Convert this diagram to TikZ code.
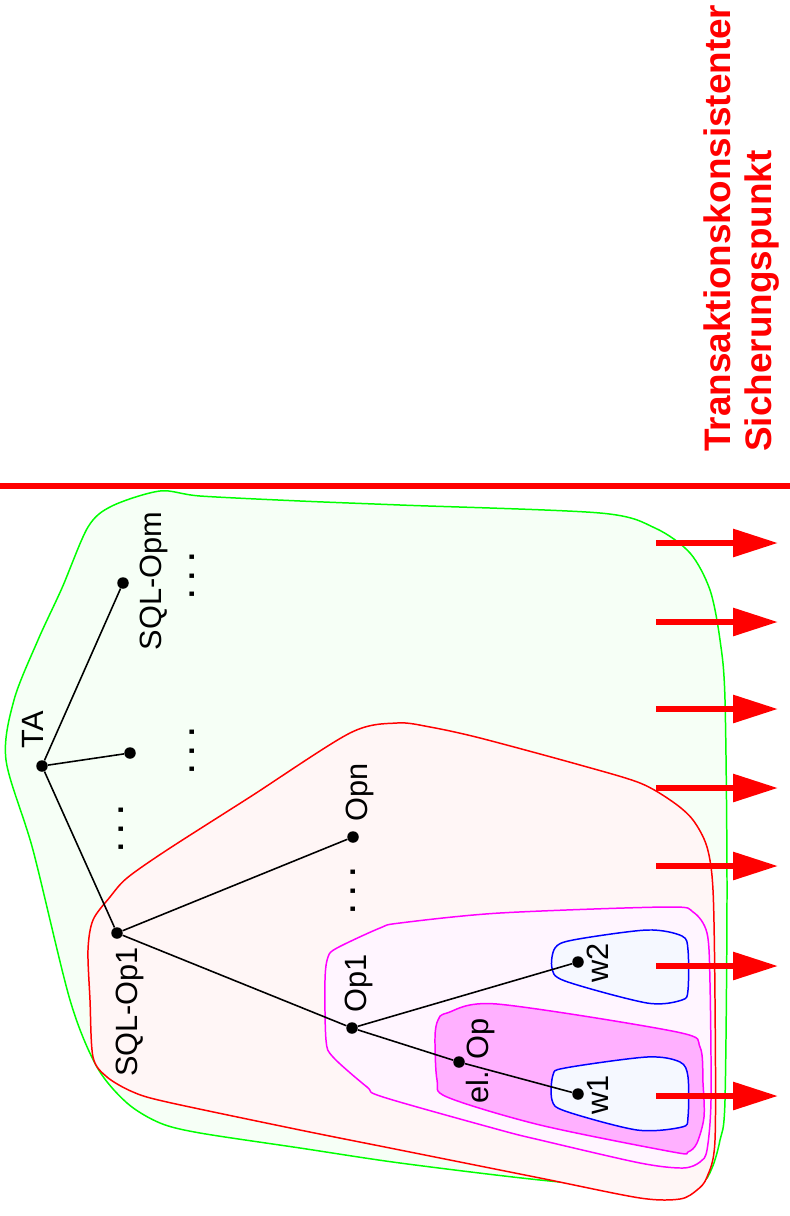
\documentclass[tikz,border=0pt]{standalone}
\usepackage{fontspec}
\setmainfont{Liberation Sans}
\usepackage{xcolor}
\usepackage{tikz}
\usetikzlibrary{arrows.meta,positioning}

\definecolor{greenline}{RGB}{0,255,0}
\definecolor{redline}{RGB}{255,0,0}
\definecolor{pinkline}{RGB}{255,0,255}
\definecolor{blueline}{RGB}{0,0,255}
\definecolor{greenfill}{RGB}{246,255,246}
\definecolor{redfill}{RGB}{255,246,246}
\definecolor{opfill}{RGB}{255,245,255}
\definecolor{elfill}{RGB}{255,176,255}
\definecolor{wfill}{RGB}{245,248,255}

\begin{document}
\begin{tikzpicture}[
  x=0.02cm, y=-0.02cm,
  font=\fontsize{17.5}{21}\selectfont,
  blob/.style={
    line width=0.85pt,
    line join=round
  },
  dot/.style={
    circle,
    fill=black,
    inner sep=0pt,
    minimum size=2.3mm
  },
  lbl/.style={
    rotate=90,
    inner sep=0pt
  },
  dotsrow/.style={
    rotate=90,
    inner sep=0pt,
    font=\fontsize{17.5}{21}\bfseries
  },
  edge/.style={
    line width=0.9pt
  },
  bigarrow/.style={
    redline,
    line width=3.4pt,
    -{Triangle[length=9mm,width=5.4mm]}
  }
]
\useasboundingbox (0,0) rectangle (790,1216);

%---------------------------------
% Regions
%---------------------------------
\filldraw[blob, draw=greenline, fill=greenfill] plot[smooth cycle, tension=0.5] coordinates {
  (6,760) (14,700) (38,640) (62,588) (88,527) (112,506) (160,491) (200,496)
  (300,501) (400,505) (600,513) (655,528) (690,553) (710,590) (720,640)
  (725,700) (727,890) (725,1100) (720,1140) (712,1168) (700,1184) (660,1190)
  (540,1180) (400,1163) (300,1148) (200,1133) (160,1123) (127,1103)
  (97,1067) (70,1000) (33,850)};

\filldraw[blob, draw=redline, fill=redfill] plot[smooth cycle, tension=0.5] coordinates {
  (88,950) (93,920) (110,897) (127,878) (167,850) (250,797) (350,733)
  (397,723) (430,727) (480,738) (580,765) (640,783) (673,802) (693,820)
  (707,847) (713,890) (715,1000) (715,1140) (707,1177) (697,1190)
  (680,1199) (640,1198) (540,1178) (400,1150) (300,1130) (167,1102)
  (133,1092) (107,1077) (93,1057) (90,1000)};

\filldraw[blob, draw=pinkline, fill=opfill] plot[smooth cycle, tension=0.5] coordinates {
  (325,980) (328,957) (337,948) (380,928) (400,923) (500,913) (667,907)
  (693,912) (707,933) (710,983) (711,1100) (707,1150) (700,1162)
  (683,1168) (640,1163) (540,1140) (500,1130) (383,1097) (367,1087)
  (333,1057) (326,1040)};

\filldraw[blob, draw=pinkline, fill=elfill] plot[smooth cycle, tension=0.5] coordinates {
  (435,1037) (438,1020) (447,1013) (497,1004) (677,1032) (700,1047)
  (703,1083) (704,1117) (697,1143) (688,1152) (673,1152) (540,1125)
  (447,1097) (437,1080)};

\filldraw[blob, draw=blueline, fill=wfill] plot[smooth cycle, tension=0.5] coordinates {
  (552,968) (555,948) (573,940) (647,930) (682,936) (688,950) (688,990)
  (682,1000) (647,1003) (565,981)};

\filldraw[blob, draw=blueline, fill=wfill] plot[smooth cycle, tension=0.5] coordinates {
  (552,1100) (553,1075) (565,1068) (647,1057) (680,1062) (688,1077)
  (688,1117) (682,1127) (637,1130) (565,1111)};

%---------------------------------
% Tree
%---------------------------------
\node[dot] (ta)     at (42,766)  {};
\node[dot] (sqlmid) at (130,753) {};
\node[dot] (sqlopm) at (123,583) {};
\node[dot] (sqlop1) at (117,933) {};
\node[dot] (opn)    at (353,837) {};
\node[dot] (op1)    at (352,1028) {};
\node[dot] (elop)   at (459,1062) {};
\node[dot] (wtwo)   at (578,962) {};
\node[dot] (wone)   at (578,1094) {};

\draw[edge] (ta) -- (sqlopm);
\draw[edge] (ta) -- (sqlmid);
\draw[edge] (ta) -- (sqlop1);
\draw[edge] (sqlop1) -- (opn);
\draw[edge] (sqlop1) -- (op1);
\draw[edge] (op1) -- (wtwo);
\draw[edge] (op1) -- (elop);
\draw[edge] (elop) -- (wone);

%---------------------------------
% Labels
%---------------------------------
\node[lbl] (talbl)     at (33,730)   {TA};
\node[lbl] (sqlopmlbl) at (154,581)  {SQL-Opm};
\node[lbl] (sqlop1lbl) at (130,1012) {SQL-Op1};
\node[lbl] (opnlbl)    at (360,792)  {Opn};
\node[lbl] (op1lbl)    at (359,983)  {Op1};
\node[lbl] (eloplbl)   at (481,1061) {el. Op};
\node[lbl] (wtwolbl)   at (598,963)  {w2};
\node[lbl] (wonelbl)   at (598,1095) {w1};

\node[dotsrow] (moreA) at (192,576) {.\hspace{2mm}.\hspace{2mm}.};
\node[dotsrow] (moreB) at (192,751) {.\hspace{2mm}.\hspace{2mm}.};
\node[dotsrow] (moreC) at (121,829) {.\hspace{2mm}.\hspace{2mm}.};
\node[dotsrow] (moreD) at (353,891) {.\hspace{2mm}.\hspace{2mm}.};

%---------------------------------
% Checkpoint
%---------------------------------
\coordinate (cutL) at (0,486);
\coordinate (cutR) at (790,486);
\draw[redline, line width=3.6pt] (cutL) -- (cutR);

\foreach \y in {543,622,709,788,866,966,1096}
  \draw[bigarrow] (656,\y) -- (778,\y);

\node[rotate=90, anchor=north west, inner sep=0pt, align=left, text=redline,
      font=\fontsize{21}{23.3}\selectfont\bfseries] (title) at (703,452)
{Transaktionskonsistenter\\Sicherungspunkt};

\end{tikzpicture}
\end{document}
